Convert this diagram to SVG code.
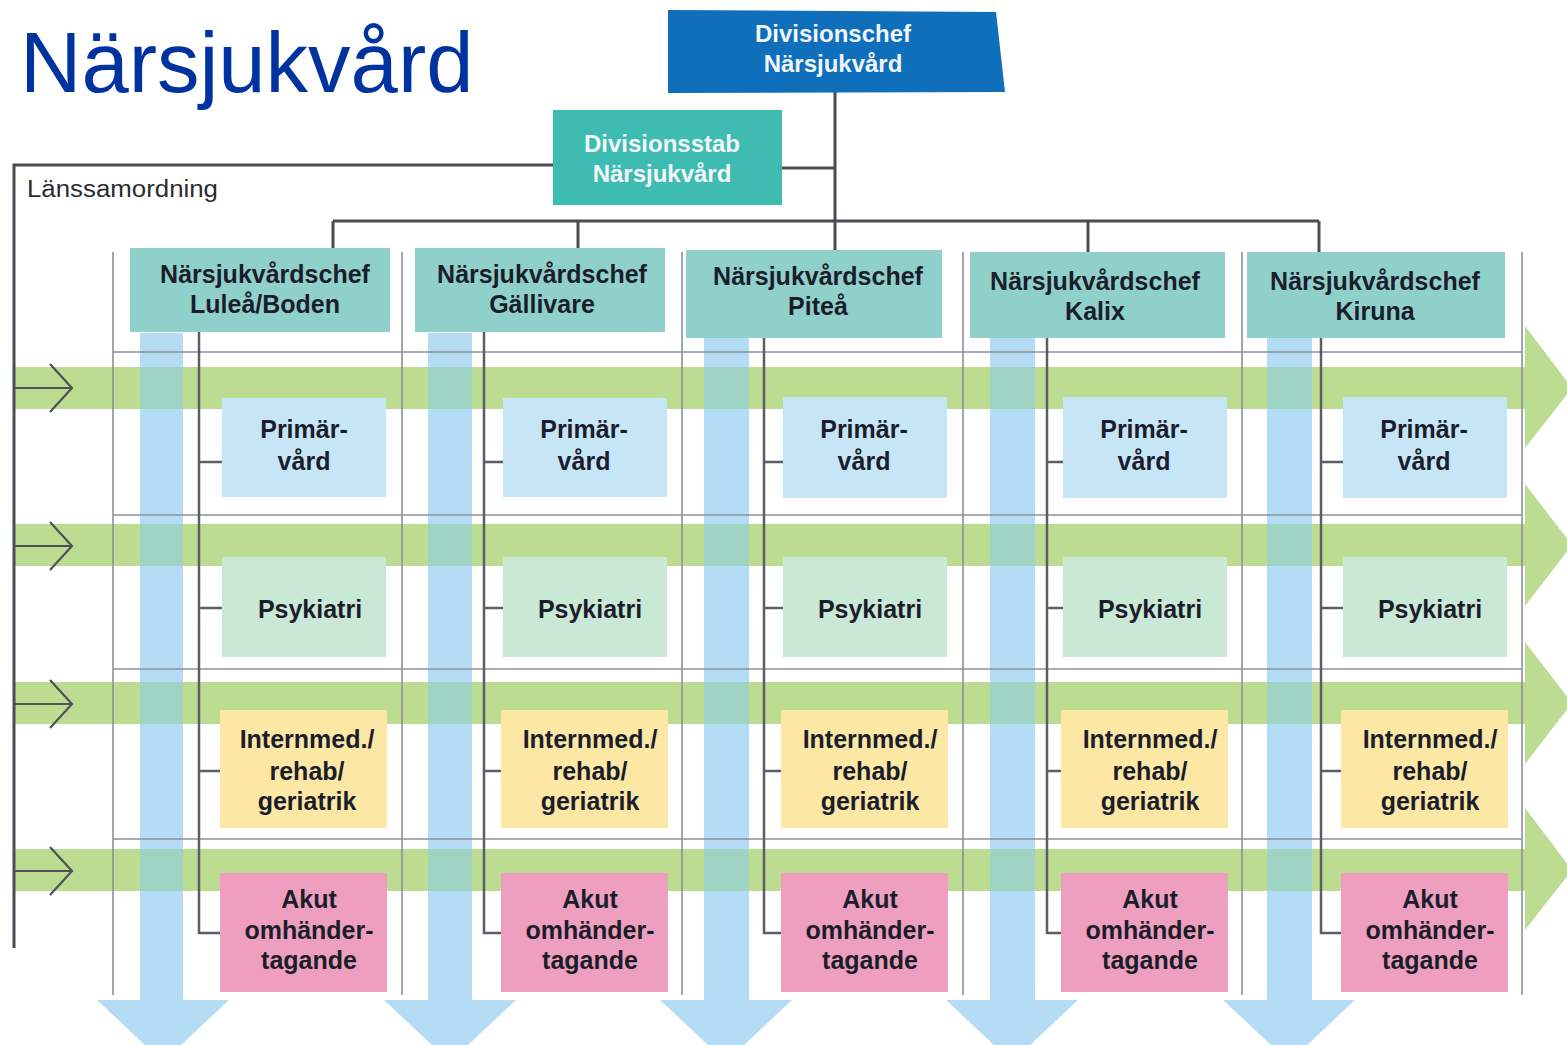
<svg xmlns="http://www.w3.org/2000/svg" width="1567" height="1045" viewBox="0 0 1567 1045">
<style>
.t{font-family:"Liberation Sans",Arial,sans-serif;font-weight:bold;font-size:25px;fill:#1b1d2b;text-anchor:middle}
.w{font-family:"Liberation Sans",Arial,sans-serif;font-weight:bold;font-size:24px;fill:#f2f6fa;text-anchor:middle}
.grid{stroke:#8c9097;stroke-width:1.6;fill:none}
.org{stroke:#4a4d52;stroke-width:3;fill:none}
.sub{stroke:#5a5e66;stroke-width:2.5;fill:none}
.arr{stroke:#4e5358;stroke-width:2.2;fill:none}
.green{fill:#bcdc92}
.blue{fill:#b4dcf4}
.ov{fill:#9fd3c4}
.hdr{fill:#8fd0cb}
.pv{fill:#c6e6f8}
.ps{fill:#c9e8d5}
.im{fill:#fde7a4}
.ak{fill:#ee9fc0}
</style>
<rect width="1567" height="1045" fill="#ffffff"/>
<text x="20" y="92" font-family="'Liberation Sans',Arial,sans-serif" font-size="85" fill="#0033a0">Närsjukvård</text>

<g id="bands">
<polygon class="green" points="15,367 1525,367 1525,326 1572,388 1525,448 1525,409 15,409"/>
<polygon class="green" points="15,524 1525,524 1525,484 1572,545 1525,606 1525,566 15,566"/>
<polygon class="green" points="15,682 1525,682 1525,642 1572,703 1525,764 1525,724 15,724"/>
<polygon class="green" points="15,849 1525,849 1525,808 1572,870 1525,930 1525,891 15,891"/>
<polygon class="blue" points="140,333 183,333 183,1000 229,1000 163,1062 97,1000 140,1000"/>
<polygon class="blue" points="428,333 472,333 472,1000 516,1000 450,1062 384,1000 428,1000"/>
<polygon class="blue" points="704,338 749,338 749,1000 792,1000 726,1062 660,1000 704,1000"/>
<polygon class="blue" points="990,338 1035,338 1035,1000 1078,1000 1012,1062 946,1000 990,1000"/>
<polygon class="blue" points="1267,338 1312,338 1312,1000 1355,1000 1289,1062 1223,1000 1267,1000"/>
<g class="ov">
<rect x="140" y="367" width="43" height="42"/><rect x="140" y="524" width="43" height="42"/><rect x="140" y="682" width="43" height="42"/><rect x="140" y="849" width="43" height="42"/>
<rect x="428" y="367" width="44" height="42"/><rect x="428" y="524" width="44" height="42"/><rect x="428" y="682" width="44" height="42"/><rect x="428" y="849" width="44" height="42"/>
<rect x="704" y="367" width="45" height="42"/><rect x="704" y="524" width="45" height="42"/><rect x="704" y="682" width="45" height="42"/><rect x="704" y="849" width="45" height="42"/>
<rect x="990" y="367" width="45" height="42"/><rect x="990" y="524" width="45" height="42"/><rect x="990" y="682" width="45" height="42"/><rect x="990" y="849" width="45" height="42"/>
<rect x="1267" y="367" width="45" height="42"/><rect x="1267" y="524" width="45" height="42"/><rect x="1267" y="682" width="45" height="42"/><rect x="1267" y="849" width="45" height="42"/>
</g>
</g>

<g id="grid" class="grid">
<line x1="113" y1="252" x2="113" y2="995"/>
<line x1="402" y1="252" x2="402" y2="995"/>
<line x1="682" y1="252" x2="682" y2="995"/>
<line x1="963" y1="252" x2="963" y2="995"/>
<line x1="1242" y1="252" x2="1242" y2="995"/>
<line x1="1522" y1="252" x2="1522" y2="995"/>
<line x1="113" y1="352" x2="1522" y2="352"/>
<line x1="113" y1="515" x2="1522" y2="515"/>
<line x1="113" y1="669" x2="1522" y2="669"/>
<line x1="113" y1="839" x2="1522" y2="839"/>
</g>

<g id="connectors">
<g class="org">
<polyline points="553,165 14,165 14,948"/>
<line x1="835" y1="92" x2="835" y2="221"/>
<line x1="782" y1="168" x2="835" y2="168"/>
<line x1="333" y1="221" x2="1319" y2="221"/>
<line x1="333" y1="221" x2="333" y2="248"/>
<line x1="578" y1="221" x2="578" y2="248"/>
<line x1="835" y1="221" x2="835" y2="250"/>
<line x1="1088" y1="221" x2="1088" y2="252"/>
<line x1="1319" y1="221" x2="1319" y2="256"/>
</g>
<g class="arr">
<path d="M14,388 H72 M50,364 L72,388 L50,412"/>
<path d="M14,546 H72 M50,522 L72,546 L50,570"/>
<path d="M14,704 H72 M50,680 L72,704 L50,728"/>
<path d="M14,871 H72 M50,847 L72,871 L50,895"/>
</g>
<g class="sub">
<path d="M199,332 V933 H222 M199,462 H222 M199,608 H222 M199,771 H222"/>
<path d="M484,332 V933 H503 M484,462 H503 M484,608 H503 M484,771 H503"/>
<path d="M764,338 V933 H783 M764,462 H783 M764,608 H783 M764,771 H783"/>
<path d="M1047,338 V933 H1063 M1047,462 H1063 M1047,608 H1063 M1047,771 H1063"/>
<path d="M1321,338 V933 H1343 M1321,462 H1343 M1321,608 H1343 M1321,771 H1343"/>
</g>
</g>

<g id="divisionschef">
<polygon points="668,10 996,12 1005,92 668,93" fill="#0f6fba"/>
<text class="w" x="833" y="42">Divisionschef</text>
<text class="w" x="833" y="72">Närsjukvård</text>
</g>
<g id="divisionsstab">
<rect x="553" y="110" width="229" height="95" fill="#3fbcb2"/>
<text class="w" x="662" y="152">Divisionsstab</text>
<text class="w" x="662" y="182">Närsjukvård</text>
</g>
<text x="27" y="197" font-family="'Liberation Sans',Arial,sans-serif" font-size="23" fill="#2a2c30" textLength="191" lengthAdjust="spacingAndGlyphs">Länssamordning</text>

<g id="chef-lulea">
<rect class="hdr" x="130" y="248" width="260" height="84"/>
<text class="t" x="265" y="283">Närsjukvårdschef</text>
<text class="t" x="265" y="313">Luleå/Boden</text>
</g>
<g id="chef-gallivare">
<rect class="hdr" x="415" y="248" width="250" height="84"/>
<text class="t" x="542" y="283">Närsjukvårdschef</text>
<text class="t" x="542" y="313">Gällivare</text>
</g>
<g id="chef-pitea">
<rect class="hdr" x="686" y="250" width="256" height="88"/>
<text class="t" x="818" y="285">Närsjukvårdschef</text>
<text class="t" x="818" y="315">Piteå</text>
</g>
<g id="chef-kalix">
<rect class="hdr" x="970" y="252" width="255" height="86"/>
<text class="t" x="1095" y="290">Närsjukvårdschef</text>
<text class="t" x="1095" y="320">Kalix</text>
</g>
<g id="chef-kiruna">
<rect class="hdr" x="1247" y="252" width="258" height="86"/>
<text class="t" x="1375" y="290">Närsjukvårdschef</text>
<text class="t" x="1375" y="320">Kiruna</text>
</g>

<g id="col1">
<g id="pv1"><rect class="pv" x="222" y="398" width="164" height="99"/><text class="t" x="304" y="438">Primär-</text><text class="t" x="304" y="470">vård</text></g>
<g id="ps1"><rect class="ps" x="222" y="557" width="164" height="100"/><text class="t" x="310" y="618">Psykiatri</text></g>
<g id="im1"><rect class="im" x="220" y="710" width="167" height="118"/><text class="t" x="307" y="748">Internmed./</text><text class="t" x="307" y="780">rehab/</text><text class="t" x="307" y="810">geriatrik</text></g>
<g id="ak1"><rect class="ak" x="220" y="873" width="167" height="119"/><text class="t" x="309" y="908">Akut</text><text class="t" x="309" y="939">omhänder-</text><text class="t" x="309" y="969">tagande</text></g>
</g>
<g id="col2">
<g id="pv2"><rect class="pv" x="503" y="398" width="164" height="99"/><text class="t" x="584" y="438">Primär-</text><text class="t" x="584" y="470">vård</text></g>
<g id="ps2"><rect class="ps" x="503" y="557" width="164" height="100"/><text class="t" x="590" y="618">Psykiatri</text></g>
<g id="im2"><rect class="im" x="501" y="710" width="167" height="118"/><text class="t" x="590" y="748">Internmed./</text><text class="t" x="590" y="780">rehab/</text><text class="t" x="590" y="810">geriatrik</text></g>
<g id="ak2"><rect class="ak" x="501" y="873" width="167" height="119"/><text class="t" x="590" y="908">Akut</text><text class="t" x="590" y="939">omhänder-</text><text class="t" x="590" y="969">tagande</text></g>
</g>
<g id="col3">
<g id="pv3"><rect class="pv" x="783" y="397" width="164" height="101"/><text class="t" x="864" y="438">Primär-</text><text class="t" x="864" y="470">vård</text></g>
<g id="ps3"><rect class="ps" x="783" y="557" width="164" height="100"/><text class="t" x="870" y="618">Psykiatri</text></g>
<g id="im3"><rect class="im" x="781" y="710" width="167" height="118"/><text class="t" x="870" y="748">Internmed./</text><text class="t" x="870" y="780">rehab/</text><text class="t" x="870" y="810">geriatrik</text></g>
<g id="ak3"><rect class="ak" x="781" y="873" width="167" height="119"/><text class="t" x="870" y="908">Akut</text><text class="t" x="870" y="939">omhänder-</text><text class="t" x="870" y="969">tagande</text></g>
</g>
<g id="col4">
<g id="pv4"><rect class="pv" x="1063" y="397" width="164" height="101"/><text class="t" x="1144" y="438">Primär-</text><text class="t" x="1144" y="470">vård</text></g>
<g id="ps4"><rect class="ps" x="1063" y="557" width="164" height="100"/><text class="t" x="1150" y="618">Psykiatri</text></g>
<g id="im4"><rect class="im" x="1061" y="710" width="167" height="118"/><text class="t" x="1150" y="748">Internmed./</text><text class="t" x="1150" y="780">rehab/</text><text class="t" x="1150" y="810">geriatrik</text></g>
<g id="ak4"><rect class="ak" x="1061" y="873" width="167" height="119"/><text class="t" x="1150" y="908">Akut</text><text class="t" x="1150" y="939">omhänder-</text><text class="t" x="1150" y="969">tagande</text></g>
</g>
<g id="col5">
<g id="pv5"><rect class="pv" x="1343" y="397" width="164" height="101"/><text class="t" x="1424" y="438">Primär-</text><text class="t" x="1424" y="470">vård</text></g>
<g id="ps5"><rect class="ps" x="1343" y="557" width="164" height="100"/><text class="t" x="1430" y="618">Psykiatri</text></g>
<g id="im5"><rect class="im" x="1341" y="710" width="167" height="118"/><text class="t" x="1430" y="748">Internmed./</text><text class="t" x="1430" y="780">rehab/</text><text class="t" x="1430" y="810">geriatrik</text></g>
<g id="ak5"><rect class="ak" x="1341" y="873" width="167" height="119"/><text class="t" x="1430" y="908">Akut</text><text class="t" x="1430" y="939">omhänder-</text><text class="t" x="1430" y="969">tagande</text></g>
</g>
</svg>
